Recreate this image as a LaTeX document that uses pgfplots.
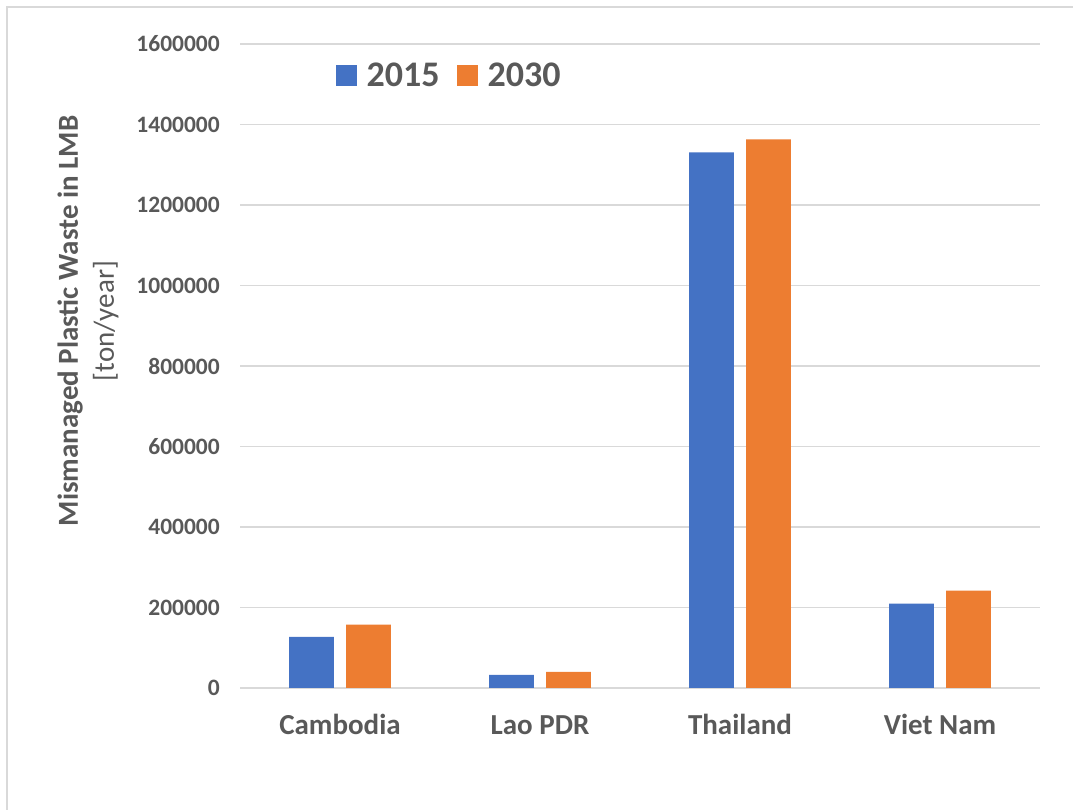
\documentclass[border=0pt]{standalone}
\usepackage{fontspec}
\setmainfont{Carlito}
\usepackage{pgfplots}
\pgfplotsset{compat=1.18}
\definecolor{cblue}{HTML}{4472C4}
\definecolor{corange}{HTML}{ED7D31}
\definecolor{txt}{HTML}{595959}
\definecolor{gridc}{HTML}{D9D9D9}
\begin{document}
\begin{tikzpicture}[x=1pt,y=1pt]
\path[use as bounding box] (0,0) rectangle (1073,810);
\draw[gridc, line width=1.2pt] (7,0) -- (7,803) -- (1080,803);
\begin{axis}[
  at={(240pt,122pt)}, anchor=south west,
  scale only axis, width=800pt, height=644pt,
  xmin=-0.5, xmax=3.5, ymin=0, ymax=1600000,
  ybar, bar width=0.223,
  axis line style={draw=none},
  major tick length=0pt,
  ymajorgrids, grid style={gridc, line width=1.3pt},
  xtick={0,1,2,3}, xticklabels={Cambodia,Lao PDR,Thailand,Viet Nam},
  ytick={0,200000,400000,600000,800000,1000000,1200000,1400000,1600000},
  scaled y ticks=false,
  y tick label style={/pgf/number format/fixed, /pgf/number format/precision=0, /pgf/number format/1000 sep={}, /pgf/number format/assume math mode=true},
  y tick label style={font=\fontsize{23.5}{28}\selectfont\bfseries, text=txt, anchor=east, inner sep=0pt, xshift=-20pt},
  x tick label style={font=\fontsize{29}{34}\selectfont\bfseries, text=txt, anchor=base, inner sep=0pt, yshift=-47pt},
  legend columns=-1,
  legend style={at={(rel axis cs:0.12,0.9512)}, anchor=west, draw=none, fill=none, inner sep=0pt,
    font=\fontsize{36}{40}\selectfont\bfseries, text=txt,
    nodes={inner sep=0pt},
    /tikz/every odd column/.style={column sep=9.5pt},
    /tikz/every even column/.style={column sep=17.5pt}},
  legend image code/.code={\fill[#1] (0pt,-10.5pt) rectangle (21pt,10.5pt);},
]
\addplot[fill=cblue, draw=none, bar shift=-0.1425] coordinates {(0,126700) (1,32300) (2,1330800) (3,209400)};
\addplot[fill=corange, draw=none, bar shift=0.1425] coordinates {(0,157300) (1,39750) (2,1363100) (3,241700)};
\legend{2015,2030}
\end{axis}
\node[rotate=90, align=center, text=txt, font=\fontsize{29}{36}\selectfont] at (88,489) {\textbf{Mismanaged Plastic Waste in LMB}\\{}[ton/year]};
\end{tikzpicture}
\end{document}
